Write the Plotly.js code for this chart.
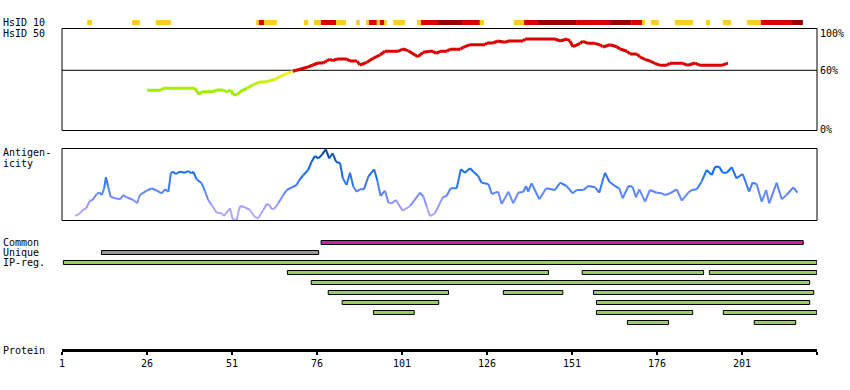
<!DOCTYPE html>
<html>
<head>
<meta charset="utf-8">
<script src="https://cdn.plot.ly/plotly-3.0.1.min.js"></script>
<style>
html,body{margin:0;padding:0;background:#fff;}
#chart{width:850px;height:390px;}
</style>
</head>
<body>
<div id="chart"></div>
<script>
// ---------- DATA ----------
var proteinLength = 223.06;
var tickResidues = [1, 26, 51, 76, 101, 126, 151, 176, 201];

// HsID 10 strip segments: start residue, end residue, level (1 = yellow, 2 = red, 3 = dark red)
var hs10Start = [8.4, 21.6, 28.6, 58.1, 58.9, 60.4, 72.2, 75.1, 77.2, 81.6, 87.5, 90.4, 91.3, 93.6, 94.5, 95.7, 98.4,
                 105.4, 106.6, 111.6, 118.9, 123.9, 133.9, 136.9, 141.0, 152.2, 162.2, 168.4, 171.6, 174.2, 181.3,
                 190.4, 195.4, 202.5, 206.6, 215.7];
var hs10End   = [9.8, 23.9, 33.1, 58.9, 60.4, 64.2, 73.4, 77.2, 81.6, 84.5, 88.6, 91.3, 93.6, 94.5, 95.7, 96.6, 101.9,
                 106.6, 111.6, 118.9, 123.9, 125.1, 136.9, 141.0, 152.2, 162.2, 168.4, 171.6, 172.5, 176.6, 186.6,
                 191.6, 197.8, 206.6, 215.7, 218.9];
var hs10Level = [1, 1, 1, 1, 2, 1, 1, 1, 2, 1, 1, 1, 2, 1, 2, 1, 1,
                 1, 2, 3, 2, 1, 1, 2, 3, 2, 3, 2, 1, 1, 1,
                 1, 1, 1, 2, 3];

// HsID 50 (% identity) profile
var hs50Res = [26, 30.1, 30.7, 40.1, 41.3, 42.2, 45.4, 46.6, 48.4, 49.5, 50.7, 51.3, 52.5, 53.4, 55.4, 57.2, 59.2, 60.7,
               62.2, 63.6, 65.1, 67.2, 68.9, 71, 73.1, 74.8, 76.3, 77.8, 78.9, 79.8, 80.7, 81.9, 84.8, 85.7, 87.8, 88.6,
               90.7, 92.5, 94.5, 96, 99.8, 101.3, 102.8, 105.7, 107.2, 109.2, 110.1, 111, 112.2, 114.2, 115.1, 118.1,
               119, 121, 125.4, 126, 127.8, 129.2, 131.3, 132.2, 136.6, 137.2, 146, 147.5, 149.5, 150.4, 151.3, 153.4,
               154.2, 155.7, 157.8, 159.8, 160.1, 162.2, 164.2, 165.1, 167.2, 168.1, 170.1, 171, 172.5, 173.9, 175.4,
               176.9, 178.9, 179.8, 183.6, 185.1, 187.2, 188.6, 195.1, 196.6, 196.9];
var hs50Val = [40, 40, 42, 42, 36, 38.6, 38.6, 40.3, 40.3, 38.3, 40.3, 35.6, 35.6, 38.6, 42, 45.6, 48.3, 48.3,
               49.6, 51, 53.6, 57, 59, 61, 63, 65.3, 67.3, 67.3, 69.6, 71, 69.6, 71.3, 71.3, 69.3, 69.3, 65.3,
               68, 72, 75.3, 79, 79, 81.3, 79.6, 73.6, 78, 79, 79, 77, 79, 79, 81, 81,
               83, 85.6, 85.6, 87.3, 87.3, 89.3, 88, 89.3, 89.3, 91.3, 91.3, 89.3, 91.3, 89.3, 83.6, 87,
               89, 87, 87, 84.6, 83.3, 85.6, 83.6, 81.3, 79, 76.3, 76.3, 73.3, 71, 69.3, 67,
               65, 65, 67, 67, 65, 67.3, 65, 65, 67, 67];

// Antigenicity profile
var antiRes = [4.9, 6.3, 7.1, 8.1, 9.2, 10.0, 11.2, 12.0, 12.7, 13.4, 13.9, 14.6, 15.3, 16.6, 18.1, 19.0, 20.0, 22.0,
               23.1, 23.9, 25.9, 27.4, 28.9, 30.3, 31.3, 32.3, 33.0, 33.6, 34.5, 35.7, 37.2, 38.1, 39.1, 39.6, 40.6,
               42.1, 43.1, 44.0, 45.0, 46.5, 48.0, 48.6, 50.4, 51.2, 52.4, 52.9, 53.4, 54.8, 56.3, 57.8, 58.7, 60.2,
               61.2, 62.0, 62.7, 63.6, 64.6, 66.1, 67.1, 68.6, 70.0, 70.8, 72.0, 73.4, 74.4, 75.4, 76.4, 77.4, 78.6,
               79.6, 80.6, 81.6, 82.8, 83.6, 84.7, 85.7, 86.7, 87.7, 88.6, 89.8, 91.1, 92.8, 93.7, 94.7, 96.0, 97.0,
               98.0, 99.2, 101.2, 103.4, 106.3, 107.3, 108.3, 109.2, 110.7, 113.0, 114.1, 115.3, 117.1, 118.3, 119.5,
               121.0, 122.0, 123.4, 124.4, 126.4, 127.4, 128.4, 129.3, 130.3, 132.3, 133.7, 135.2, 136.7, 137.5, 138.1,
               139.1, 141.4, 143.4, 146.0, 147.5, 149.4, 151.2, 152.4, 154.3, 155.8, 157.8, 159.0, 160.7, 162.0, 163.6,
               164.9, 165.9, 167.6, 168.8, 169.8, 170.8, 172.5, 173.9, 175.9, 177.4, 178.4, 179.8, 181.8, 183.3, 185.2,
               186.2, 187.7, 189.1, 190.6, 192.1, 193.1, 194.3, 195.3, 196.5, 198.0, 199.4, 201.2, 203.1, 204.1, 205.3,
               206.8, 208.1, 209.0, 211.2, 212.7, 214.1, 216.1, 217.3];
var antiVal = [4, 6.7, 10, 11.7, 19.3, 20, 26, 27.7, 25, 31.7, 42.7, 33.3, 23.3, 21.7, 20.7, 25, 22.7, 20,
               16.7, 25, 29.3, 31.7, 29.3, 26.7, 30.7, 28.3, 46.7, 48.3, 46, 48.3, 47.3, 49, 46.7, 48.3, 40.7,
               36.7, 28.3, 20, 15, 7.3, 6.7, 4, 11.7, 0.7, 0, 8.3, 14, 12.7, 10, 2.7, 1.7, 10,
               16, 15, 10.7, 11.7, 16.7, 25, 30, 32.7, 35, 40, 45, 50, 58.3, 64, 61.7, 65, 70.7,
               61.7, 66.7, 58.3, 56.7, 41.7, 35, 47.3, 33.3, 28.3, 30.7, 30.7, 43.3, 50.7, 40, 24, 29.3, 17.3,
               16.7, 20, 9.3, 14, 27.3, 23.3, 13.3, 4, 6.7, 22.7, 24, 31.7, 31.7, 50.7, 47.3,
               51.7, 48.3, 44, 37.3, 36, 26, 27.3, 28.3, 16, 28.3, 16.7, 27.3, 28.3, 34, 28.3,
               36.7, 20.7, 31.7, 30, 37.3, 34, 26.7, 30, 30, 34, 32.7, 27.3, 47.3, 38.3, 34,
               31.7, 21.7, 34, 33.3, 22.7, 30.7, 18.3, 30, 27.3, 26.7, 25, 26.7, 30.7, 19.3, 27.3,
               30, 30.7, 38.3, 50, 45, 53.3, 53.3, 47.3, 47.3, 52.7, 41.7, 46, 28.3, 37.3, 36,
               18.3, 30, 16.7, 37.3, 20.7, 25, 32.7, 27.3];

// Region bars
var commonStart = [77.2], commonEnd = [219.0];
var uniqueStart = [12.6], uniqueEnd = [76.5];
var ipRow   = [1, 2, 2, 2, 3, 4, 4, 4, 5, 5, 6, 6, 6, 7, 7];
var ipStart = [1.4, 67.3, 154.0, 191.4, 74.3, 79.3, 130.8, 157.3, 83.4, 158.2, 92.6, 158.2, 195.5, 167.3, 204.6];
var ipEnd   = [223.0, 144.1, 189.7, 223.0, 220.9, 114.7, 148.3, 222.1, 111.8, 220.9, 104.6, 186.5, 223.0, 179.4, 216.8];

// ---------- STYLE / LAYOUT HELPERS ----------
var H = 390, L = 62, R = 817;
function py(px) { return 1 - px / H; }
function pxX(px) { return (px - L) / (R - L); }
var FONT = 'DejaVu Sans Mono, monospace';

function lerpColor(stops, v) {
  if (v <= stops[0][0]) return 'rgb(' + stops[0][1].join(',') + ')';
  for (var i = 1; i < stops.length; i++) {
    if (v <= stops[i][0]) {
      var t = (v - stops[i-1][0]) / (stops[i][0] - stops[i-1][0]);
      var c = stops[i-1][1].map(function (a, k) { return Math.round(a + (stops[i][1][k] - a) * t); });
      return 'rgb(' + c.join(',') + ')';
    }
  }
  return 'rgb(' + stops[stops.length-1][1].join(',') + ')';
}
function hsColor(v) {
  if (v >= 60) return '#dd0000';
  return lerpColor([[40, [160, 236, 0]], [50, [205, 240, 20]], [60, [255, 240, 60]]], v);
}
var antiStops = [[0, [185, 170, 255]], [12, [170, 160, 255]], [22, [115, 140, 255]], [32, [70, 128, 255]],
                 [48, [20, 110, 240]], [60, [0, 95, 215]], [71, [0, 60, 140]]];

var traces = [];
for (var i = 0; i < hs50Res.length - 1; i++) {
  traces.push({x: [hs50Res[i], hs50Res[i+1]], y: [hs50Val[i], hs50Val[i+1]], xaxis: 'x', yaxis: 'y',
               mode: 'lines', line: {color: hsColor((hs50Val[i] + hs50Val[i+1]) / 2), width: 3},
               hoverinfo: 'skip', showlegend: false});
}
for (var j = 0; j < antiRes.length - 1; j++) {
  traces.push({x: [antiRes[j], antiRes[j+1]], y: [antiVal[j], antiVal[j+1]], xaxis: 'x', yaxis: 'y2',
               mode: 'lines', line: {color: lerpColor(antiStops, (antiVal[j] + antiVal[j+1]) / 2), width: 2},
               hoverinfo: 'skip', showlegend: false});
}

var shapes = [];
// HsID 10 strip
var levelColors = {1: '#ffcc22', 2: '#dd0000', 3: '#990000'};
for (var s = 0; s < hs10Start.length; s++) {
  shapes.push({type: 'rect', xref: 'x', yref: 'paper', x0: hs10Start[s], x1: hs10End[s],
               y0: py(25), y1: py(20), fillcolor: levelColors[hs10Level[s]], line: {width: 0}, layer: 'above'});
}
// Panel boxes and 60% line
shapes.push({type: 'rect', xref: 'paper', yref: 'paper', x0: 0, x1: 1, y0: py(130.5), y1: py(28.5),
             line: {color: '#000', width: 1}, fillcolor: 'rgba(0,0,0,0)', layer: 'below'});
shapes.push({type: 'line', xref: 'paper', yref: 'y', x0: 0, x1: 1, y0: 60, y1: 60,
             line: {color: '#000', width: 1}, layer: 'below'});
shapes.push({type: 'rect', xref: 'paper', yref: 'paper', x0: 0, x1: 1, y0: py(220.5), y1: py(148.5),
             line: {color: '#000', width: 1}, fillcolor: 'rgba(0,0,0,0)', layer: 'below'});

function barShape(x0, x1, center, color) {
  return {type: 'rect', xref: 'x', yref: 'paper', x0: x0, x1: x1, y0: py(center + 2), y1: py(center - 2),
          fillcolor: color, line: {color: '#000', width: 1}, layer: 'above'};
}
shapes.push(barShape(commonStart[0], commonEnd[0], 242.5, '#cc22aa'));
shapes.push(barShape(uniqueStart[0], uniqueEnd[0], 252.5, '#999999'));
for (var b = 0; b < ipStart.length; b++) {
  shapes.push(barShape(ipStart[b], ipEnd[b], 252.5 + 10 * ipRow[b], '#99cc66'));
}

function lab(text, px, pyc, anchor) {
  return {text: text, xref: 'paper', yref: 'paper', x: pxX(px), y: py(pyc), xanchor: anchor || 'left',
          yanchor: 'middle', showarrow: false, font: {family: FONT, size: 10, color: '#000'}, borderpad: 0};
}
var annotations = [
  lab('HsID 10', 2, 22), lab('HsID 50', 2, 33), lab('Antigen-', 2, 153), lab('icity', 2, 163),
  lab('Common', 2, 242), lab('Unique', 2, 252), lab('IP-reg.', 2, 262), lab('Protein', 2, 350),
  lab('100%', 819, 33), lab('60%', 819, 70.5), lab('0%', 819, 130)
];

var tickVals = tickResidues.concat([proteinLength]);
var tickText = tickResidues.map(String).concat(['']);

var layout = {
  width: 850, height: 390,
  margin: {l: L, r: 850 - R, t: 0, b: 0, pad: 0},
  paper_bgcolor: '#fff', plot_bgcolor: 'rgba(0,0,0,0)',
  showlegend: false, hovermode: false,
  font: {family: FONT, size: 10, color: '#000'},
  xaxis: {range: [1, proteinLength], anchor: 'free', position: py(349.5), automargin: false,
          showline: true, linecolor: '#000', linewidth: 3, ticks: 'outside', ticklen: 3, tickwidth: 2,
          tickcolor: '#000', tickvals: tickVals, ticktext: tickText, showgrid: false, zeroline: false,
          tickfont: {family: FONT, size: 10, color: '#000'}, fixedrange: true},
  yaxis: {domain: [py(130.3), py(28.3)], range: [0, 102], visible: false, fixedrange: true},
  yaxis2: {domain: [py(220), py(148.3)], range: [0, 71.7], visible: false, fixedrange: true},
  shapes: shapes, annotations: annotations
};

Plotly.newPlot('chart', traces, layout, {staticPlot: true, displayModeBar: false});
</script>
</body>
</html>
